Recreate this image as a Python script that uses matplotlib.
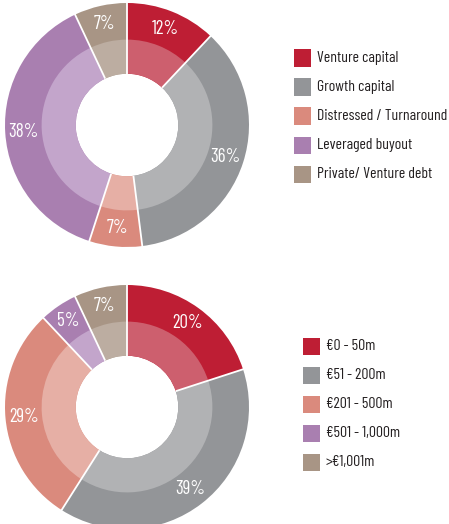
import numpy as np
import matplotlib.pyplot as plt
from matplotlib.patches import Rectangle

W, H = 449, 524

strategies = ["Venture capital", "Growth capital", "Distressed / Turnaround",
              "Leveraged buyout", "Private/ Venture debt"]
strategy_pct = [12, 36, 7, 38, 7]

sizes = ["€0 - 50m", "€51 - 200m", "€201 - 500m", "€501 - 1,000m", ">€1,001m"]
size_pct = [20, 39, 29, 5, 7]

dark = ["#BE1E34", "#939598", "#DA8A7D", "#A97FB0", "#A89585"]
light = ["#CD5F6E", "#B1B2B4", "#E6AFA5", "#C3A5CB", "#BCADA1"]

font = ["Barlow Condensed", "DejaVu Sans"]

fig = plt.figure(figsize=(W / 100, H / 100), dpi=100)

R_MID = 0.70
R_HOLE = 0.42


def donut(cx, cy, r, values):
    ax = fig.add_axes([(cx - r) / W, (H - cy - r) / H, 2 * r / W, 2 * r / H])
    ax.pie(values, radius=1, startangle=90, counterclock=False, colors=dark,
           wedgeprops=dict(width=1 - R_HOLE, linewidth=0))
    ax.pie(values, radius=R_MID, startangle=90, counterclock=False, colors=light,
           wedgeprops=dict(width=R_MID - R_HOLE, linewidth=0))
    # white separators through both rings
    edges = 90 - 360 * np.cumsum([0] + list(values)) / sum(values)
    for a in edges[:-1]:
        t = np.radians(a)
        ax.plot([R_HOLE * np.cos(t), 1.01 * np.cos(t)],
                [R_HOLE * np.sin(t), 1.01 * np.sin(t)], color="white", lw=1.3,
                solid_capstyle="butt")
    mids = (edges[:-1] + edges[1:]) / 2
    for v, a in zip(values, mids):
        t = np.radians(a)
        ax.text(0.85 * np.cos(t), 0.85 * np.sin(t), f"{v}%", color="white",
                ha="center", va="center", fontsize=13.5, family=font)
    ax.set_xlim(-1, 1)
    ax.set_ylim(-1, 1)
    ax.set_aspect("equal")
    ax.axis("off")


def legend(x, y0, step, labels):
    for i, lab in enumerate(labels):
        y = y0 + i * step
        fig.add_artist(Rectangle(((x) / W, (H - y - 8.5) / H), 17 / W, 17 / H,
                                 transform=fig.transFigure, color=dark[i], lw=0))
        fig.text((x + 23) / W, (H - y) / H, lab, ha="left", va="center",
                 fontsize=11.3, family=font, color="#231F20")


donut(127, 125, 122, strategy_pct)
legend(294, 58, 29, strategies)

donut(127, 407, 122, size_pct)
legend(303, 346, 29, sizes)

fig.savefig("out.png", dpi=100)
